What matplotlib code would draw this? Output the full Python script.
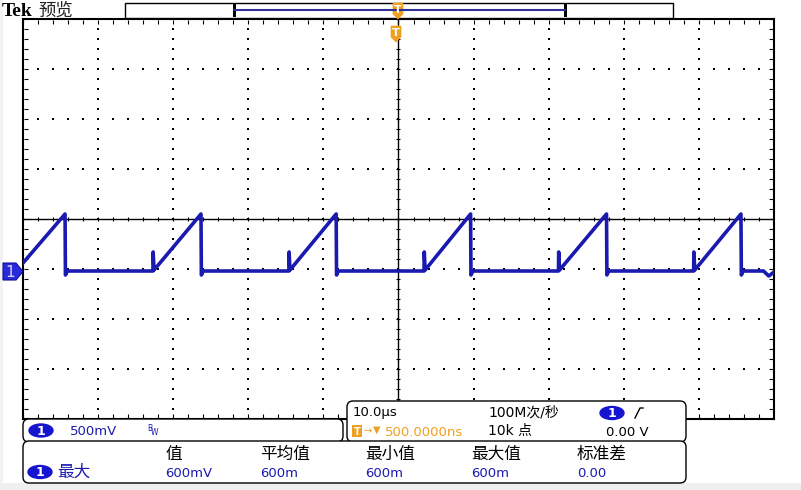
import matplotlib
matplotlib.use('Agg')
import matplotlib.pyplot as plt
from matplotlib.patches import FancyBboxPatch, Polygon, Rectangle, Ellipse

plt.rcParams['font.family'] = ['DejaVu Sans', 'Noto Sans CJK SC']

# scope settings
time_div_us = 10.0
volt_div = 0.5
ch1_offset = -0.52          # ground marker, in screen volts

# waveform breakpoints (us, V)
peak_us = [-44.4, -26.3, -8.3, 9.6, 27.7, 45.6]
ramp_us = [-32.7, -14.6, 3.4, 21.3, 39.3]
v_start = 0.08
v_peak = 0.57
v_base = 0.0
v_under = -0.04
v_spike = 0.19
tail_us = [48.6, 49.3, 50.0]
tail_v = [0.0, -0.05, -0.01]

# readouts
scale_text = '500mV'
timebase_text = '10.0µs'
trig_pos_text = '500.0000ns'
rate_text = '100M次/秒'
points_text = '10k 点'
trig_level_text = '0.00 V'
meas_headers = ['值', '平均值', '最小值', '最大值', '标准差']
meas_values = ['600mV', '600m', '600m', '600m', '0.00']
meas_name = '最大'

blue = '#1a1ab0'
badge_blue = '#1515d0'
orange = '#f0a020'

W, H = 801, 490
fig = plt.figure(figsize=(W / 100, H / 100), dpi=100)
fig.patch.set_facecolor('white')

# plot area in pixels
x0, x1, y0, y1 = 23, 774, 19, 419
ax = fig.add_axes([x0 / W, 1 - y1 / H, (x1 - x0) / W, (y1 - y0) / H])
ax.set_xlim(-5 * time_div_us, 5 * time_div_us)
ax.set_ylim(-4 * volt_div, 4 * volt_div)
ax.set_xticks([])
ax.set_yticks([])
for s in ax.spines.values():
    s.set_linewidth(1.5)
    s.set_color('black')

# graticule
mx = time_div_us / 5
my = volt_div / 5
ys = [-2 + j * my for j in range(41)]
xs = [-50 + j * mx for j in range(51)]
for k in range(-4, 5):
    if k == 0:
        continue
    ax.scatter([k * time_div_us] * len(ys), ys, s=0.7, c='black', marker='s', lw=0)
for k in range(-3, 4):
    if k == 0:
        continue
    ax.scatter(xs, [k * volt_div] * len(xs), s=0.7, c='black', marker='s', lw=0)
ax.axhline(0, color='black', lw=1)
ax.axvline(0, color='black', lw=1)
ax.scatter(xs, [0] * len(xs), s=12, c='black', marker='|', lw=0.8)
ax.scatter([0] * len(ys), ys, s=12, c='black', marker='_', lw=0.8)
# border ticks
ax.scatter(xs, [2 - 0.03] * len(xs), s=5, c='black', marker='|', lw=0.8)
ax.scatter(xs, [-2 + 0.03] * len(xs), s=5, c='black', marker='|', lw=0.8)
ax.scatter([-50 + 0.4] * len(ys), ys, s=5, c='black', marker='_', lw=0.8)
ax.scatter([50 - 0.4] * len(ys), ys, s=5, c='black', marker='_', lw=0.8)

# waveform
t = [-50.0]
v = [v_start]
for i, pk in enumerate(peak_us):
    t += [pk, pk + 0.05, pk + 0.3]
    v += [v_peak, v_under, v_base]
    if i < len(ramp_us):
        rs = ramp_us[i]
        t += [rs, rs + 0.03, rs + 0.15]
        v += [v_base, v_spike, v_base + 0.01]
t += tail_us
v += tail_v
ax.plot(t, [val + ch1_offset for val in v], color=blue, lw=2.6, zorder=5)

# overlay in pixel coordinates
ov = fig.add_axes([0, 0, 1, 1], zorder=10)
ov.set_xlim(0, W)
ov.set_ylim(H, 0)
ov.axis('off')
ov.patch.set_alpha(0)

ov.add_patch(Rectangle((0, 483), W, 7, color='#efefef', lw=0))
ov.add_patch(Rectangle((0, 0), 3, 483, color='#f2f2f2', lw=0))

# title
ov.text(2, 11, 'Tek', fontsize=14, fontweight='bold', family='Liberation Serif',
        va='center', ha='left')
ov.text(38, 11, '预览', fontsize=12.5, family='Noto Sans CJK SC', va='center',
        ha='left', color='#222222')

# record bar
ov.add_patch(Rectangle((125, 3), 548, 15, fc='white', ec='black', lw=1))
ov.plot([234, 565], [10.5, 10.5], color='#303098', lw=1.5)
ov.add_patch(Rectangle((233, 4), 2.5, 13, color='black', lw=0))
ov.add_patch(Rectangle((564, 4), 2.5, 13, color='black', lw=0))


def trig_marker(cx, top):
    pts = [(cx - 5, top), (cx + 5, top), (cx + 5, top + 11), (cx, top + 16), (cx - 5, top + 11)]
    ov.add_patch(Polygon(pts, closed=True, fc=orange, ec=orange, lw=0.5))
    ov.text(cx, top + 7, 'T', color='white', fontsize=8, fontweight='bold',
            ha='center', va='center')


trig_marker(398, 3)
trig_marker(396, 26)

# channel ground marker
pts = [(3, 263), (16, 263), (23, 271.5), (16, 280), (3, 280)]
ov.add_patch(Polygon(pts, closed=True, fc='#2a2ad8', ec='#1010a0', lw=0.8))
ov.text(10.5, 272, '1', color='#d0d8ff', fontsize=11, ha='center', va='center')


def panel(xa, ya, xb, yb):
    ov.add_patch(FancyBboxPatch((xa + 5, ya + 3), xb - xa - 10, yb - ya - 6,
                                boxstyle='round,pad=5,rounding_size=6',
                                fc='white', ec='black', lw=1))


def badge(cx, cy):
    ov.add_patch(Ellipse((cx, cy), 24, 13, fc=badge_blue, ec=badge_blue))
    ov.text(cx, cy + 0.5, '1', color='white', fontsize=9, fontweight='bold',
            ha='center', va='center')


# channel panel
panel(23, 421, 343, 440)
badge(41, 430.5)
ov.text(70, 431, scale_text, color=blue, fontsize=9.5, va='center')
ov.text(147, 428, 'B', color=blue, fontsize=5.5, va='center')
ov.text(151, 432, 'W', color=blue, fontsize=5.5, va='center')

# horizontal / trigger panel
panel(347, 403, 686, 440)
ov.text(353, 412, timebase_text, fontsize=9.5, va='center')
ov.add_patch(Rectangle((352, 425), 10, 12, color=orange, lw=0))
ov.text(357, 431.5, 'T', color='white', fontsize=7, fontweight='bold', ha='center', va='center')
ov.text(363, 431, '→', color=orange, fontsize=7, va='center')
ov.text(373, 430, '▼', color=orange, fontsize=7, va='center')
ov.text(385, 432, trig_pos_text, color=orange, fontsize=9.5, va='center')
ov.text(488, 412, rate_text, fontsize=10, va='center')
ov.text(488, 431, points_text, fontsize=10, va='center')
badge(612, 413)
ov.plot([635, 640, 643], [418, 408, 408], color='black', lw=1)
ov.text(606, 432, trig_level_text, fontsize=9.5, va='center')

# measurement panel
panel(23, 443, 686, 481)
head_x = [165, 260, 365, 471, 577]
for hx, h, val in zip(head_x, meas_headers, meas_values):
    ov.text(hx, 454, h, fontsize=12, family=['Noto Sans CJK SC'], va='center')
    ov.text(hx, 473, val, color=blue, fontsize=9.5, va='center')
badge(40, 472)
ov.text(57, 472, meas_name, color=blue, fontsize=12, family=['Noto Sans CJK SC'], va='center')

fig.savefig('out.png', dpi=100)
